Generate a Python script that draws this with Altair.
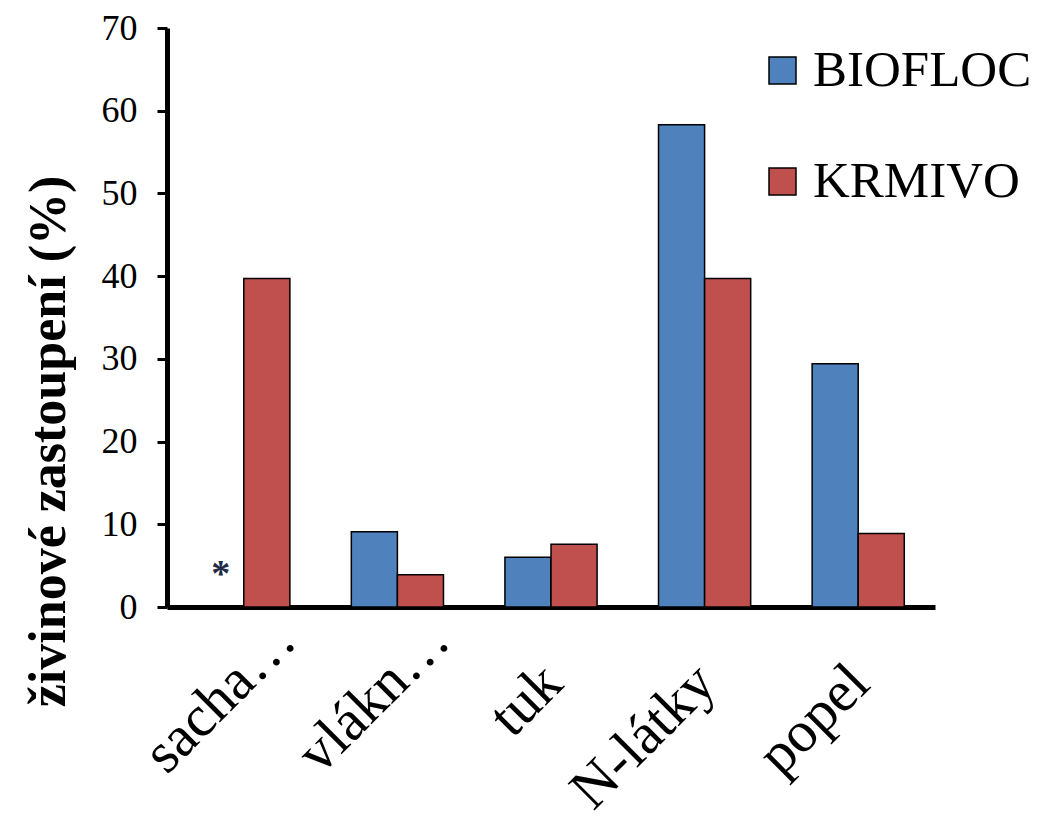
import altair as alt
import pandas as pd

categories = ["sacha…", "vlákn…", "tuk", "N-látky", "popel"]
series = ["BIOFLOC", "KRMIVO"]
biofloc = [0, 9.1, 6.0, 58.3, 29.4]
krmivo = [39.7, 3.9, 7.6, 39.7, 8.9]
marks = ["*", "", "", "", ""]
mark_pos = [5, 0, 0, 0, 0]

rows = []
for i, c in enumerate(categories):
    rows.append({"kat": c, "serie": "BIOFLOC", "hodnota": biofloc[i]})
    rows.append({"kat": c, "serie": "KRMIVO", "hodnota": krmivo[i]})
df = pd.DataFrame(rows)

note_df = pd.DataFrame({
    "kat": categories,
    "serie": ["BIOFLOC"] * 5,
    "pos": mark_pos,
    "txt": marks,
})
note_df = note_df[note_df["txt"] != ""]

font = "Liberation Serif"
trunc_test = "indexof(datum.label, '…') >= 0"

x_enc = alt.X("kat:N", sort=categories, title=None,
              scale=alt.Scale(paddingInner=0.4, paddingOuter=0.2),
              axis=alt.Axis(labelAngle=-45, labelFontSize=58, labelFont=font,
                            labelColor="black", ticks=False, domainColor="black",
                            domainWidth=5, labelAlign="right", labelBaseline="alphabetic",
                            labelPadding={"condition": {"test": trunc_test, "value": 36}, "value": 79},
                            labelOffset={"condition": {"test": trunc_test, "value": 55}, "value": 14},
                            labelLimit=0))

bars = alt.Chart(df).mark_bar(stroke="black", strokeWidth=1.5).encode(
    x=x_enc,
    xOffset=alt.XOffset("serie:N", sort=series),
    y=alt.Y("hodnota:Q", title="živinové zastoupení (%)",
            scale=alt.Scale(domain=[0, 70]),
            axis=alt.Axis(values=[0, 10, 20, 30, 40, 50, 60, 70], grid=False,
                          tickSize=10, tickWidth=3, tickColor="black",
                          domainColor="black", domainWidth=5,
                          labelFontSize=36, labelFont=font, labelColor="black",
                          labelPadding=20,
                          titleFontSize=52, titleFont=font, titleFontWeight="bold",
                          titleColor="black", titleX=-92, titleY=413)),
    color=alt.Color("serie:N", sort=series,
                    scale=alt.Scale(domain=series, range=["#4F81BD", "#C0504D"]),
                    legend=alt.Legend(title=None, orient="none", legendX=590, legendY=17,
                                      symbolType="square", symbolSize=729,
                                      symbolStrokeColor="black", symbolStrokeWidth=1.5,
                                      labelFontSize=51, labelFont=font, labelColor="black",
                                      labelOffset=5, rowPadding=59, labelLimit=0)),
)

notes = alt.Chart(note_df).mark_text(fontSize=38, font=font, fontWeight="bold",
                                     color="#1F2A44", baseline="middle", dy=9).encode(
    x=alt.X("kat:N", sort=categories),
    xOffset=alt.XOffset("serie:N", sort=series),
    y=alt.Y("pos:Q"),
    text="txt:N",
)

chart = alt.layer(bars, notes).properties(
    width=768, height=579,
    background="white",
    autosize=alt.AutoSizeParams(type="none"),
    padding={"left": 159, "top": 20, "right": 98, "bottom": 214},
).configure_view(stroke="transparent", strokeWidth=0)

chart.save("out.html", embed_options={"renderer": "svg", "actions": False})
